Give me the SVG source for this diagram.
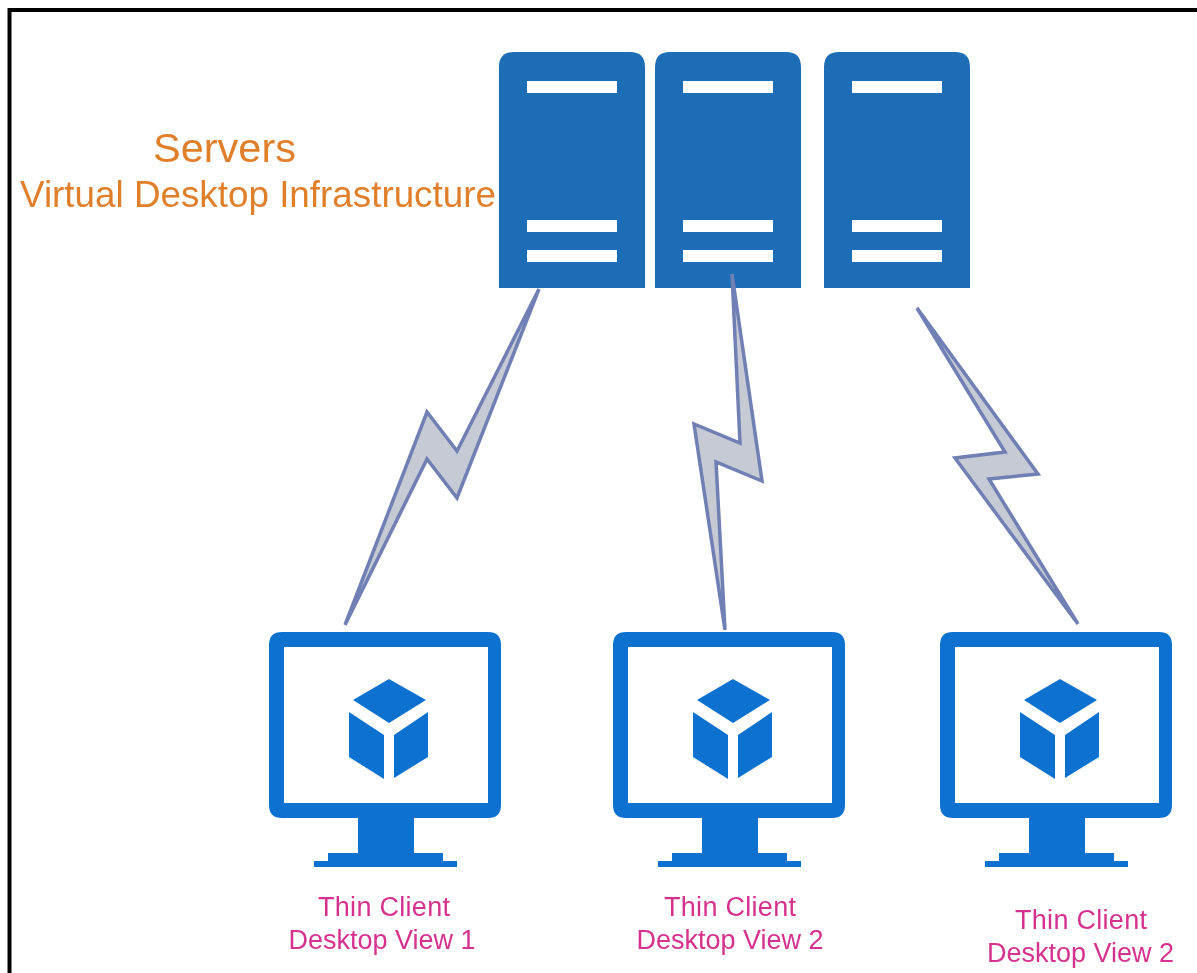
<svg xmlns="http://www.w3.org/2000/svg" width="1197" height="973" viewBox="0 0 1197 973">
<style>
.srv{fill:#1e6db5}.bar{fill:#fff}
.bolt{fill:#c6cad4;stroke:#6f7fb4;stroke-width:3.500;stroke-linejoin:miter}
.mon{fill:#0f72cf}
.lab{font-family:"Liberation Sans",Arial,sans-serif;text-anchor:middle}
.o{fill:#e07f2c}.p{fill:#d5308e;font-size:27px}
</style>
<defs>
<filter id="soft" x="-2%" y="-2%" width="104%" height="104%"><feGaussianBlur stdDeviation="0.7"/></filter>
<g id="server"><path class="srv" d="M0 288V67Q0 52 15 52H131Q146 52 146 67V288Z"/><rect class="bar" x="28" y="81" width="90" height="12"/><rect class="bar" x="28" y="220" width="90" height="12"/><rect class="bar" x="28" y="250" width="90" height="12"/></g>
<g id="monitor"><path class="mon" fill-rule="evenodd" d="M13 632H219Q232 632 232 645V805Q232 818 219 818H13Q0 818 0 805V645Q0 632 13 632ZM15 647V803H219V647Z"/><rect class="mon" x="89" y="815" width="56" height="40"/><rect class="mon" x="59" y="853" width="115" height="9"/><rect class="mon" x="45" y="861" width="143" height="6"/><path class="mon" d="M120 679L157 700L120 723L84 700ZM80 712L115 735V779L80 757ZM159 712V757L125 778V735Z"/></g>
</defs>
<rect width="1197" height="973" fill="#fff"/>
<g filter="url(#soft)">
<path d="M9.500 973V10H1197" fill="none" stroke="#000" stroke-width="4"/>
<g id="server-1"><use href="#server" x="499"/></g>
<g id="server-2"><use href="#server" x="655"/></g>
<g id="server-3"><use href="#server" x="824"/></g>
<g id="connectors">
<path class="bolt" d="M539 289L457 498L427 459L345 625L427 412L457 451Z"/>
<path class="bolt" d="M732 274L762 481L716 462L725 630L694 424L740 443Z"/>
<path class="bolt" d="M917 308L1038 474L989 479L1078 624L955 458L1005 452Z"/>
</g>
<g id="label-servers"><text class="lab o" x="224.500" y="162" font-size="41.500">Servers</text><text class="lab o" x="258" y="206.500" font-size="36.800">Virtual Desktop Infrastructure</text></g>
<g id="client-1"><use href="#monitor" x="269"/><text class="lab p" x="384" y="916" textLength="132">Thin Client</text><text class="lab p" x="382" y="949">Desktop View 1</text></g>
<g id="client-2"><use href="#monitor" x="613"/><text class="lab p" x="730" y="916" textLength="132">Thin Client</text><text class="lab p" x="730" y="949">Desktop View 2</text></g>
<g id="client-3"><use href="#monitor" x="940"/><text class="lab p" x="1081" y="929" textLength="132">Thin Client</text><text class="lab p" x="1080.500" y="962">Desktop View 2</text></g>
</g>
</svg>
